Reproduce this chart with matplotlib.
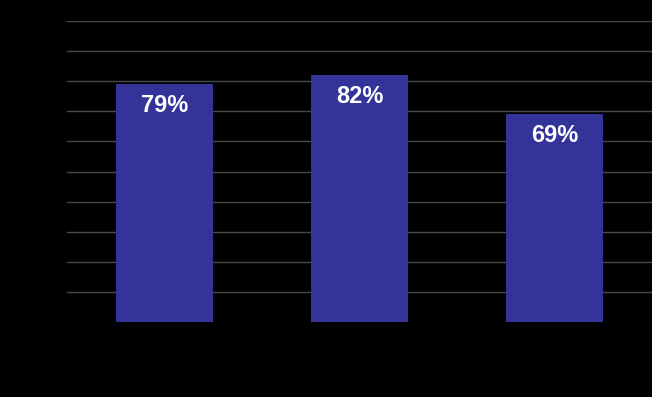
import matplotlib.pyplot as plt

# Dane
categories = ['A', 'B', 'C']
values = [79, 82, 69]
labels = ['79%', '82%', '69%']

fig = plt.figure(figsize=(6.52, 3.97), dpi=100, facecolor='black')
ax = fig.add_axes([67/652, 75/397, 585/652, 301/397], facecolor='black')

bars = ax.bar(range(len(categories)), values, width=0.5, color='#333399', zorder=2)

# Etykiety wewnątrz słupków
for bar, txt in zip(bars, labels):
    ax.annotate(txt, (bar.get_x() + bar.get_width() / 2, bar.get_height()),
                xytext=(0, -21), textcoords='offset pixels',
                ha='center', va='center', color='white', fontsize=17,
                fontweight='bold', family='Liberation Sans', zorder=3)

ax.set_xlim(-0.5, 2.5)
ax.set_ylim(0, 100)
for y in range(10, 101, 10):
    ax.axhline(y, color='#4a4a4a', linewidth=1, zorder=1)

ax.set_xticks([])
ax.set_yticks([])
for s in ax.spines.values():
    s.set_visible(False)

fig.savefig('out.png', dpi=100, facecolor='black')
